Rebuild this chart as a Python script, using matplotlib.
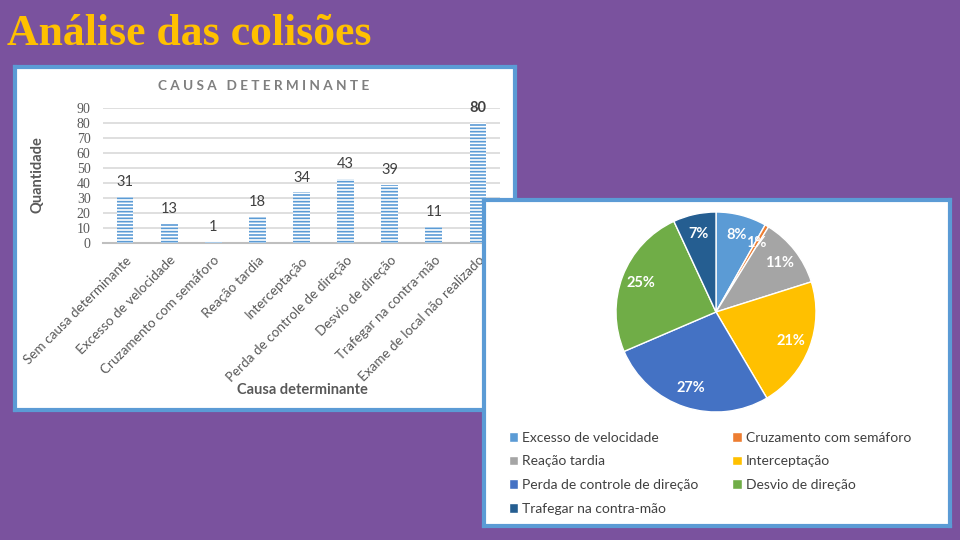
import numpy as np
import matplotlib
matplotlib.use("Agg")
import matplotlib.pyplot as plt
from matplotlib.patches import Patch

# bar chart data
causes = ["Sem causa determinante", "Excesso de velocidade", "Cruzamento com semáforo",
          "Reação tardia", "Interceptação", "Perda de controle de direção",
          "Desvio de direção", "Trafegar na contra-mão", "Exame de local não realizado"]
counts = [31, 13, 1, 18, 34, 43, 39, 11, 80]

# pie chart data (causes with a known type)
pie_labels = ["Excesso de velocidade", "Cruzamento com semáforo", "Reação tardia",
              "Interceptação", "Perda de controle de direção", "Desvio de direção",
              "Trafegar na contra-mão"]
pie_values = [13, 1, 18, 34, 43, 39, 11]
pie_colors = ["#5B9BD5", "#ED7D31", "#A5A5A5", "#FFC000", "#4472C4", "#70AD47", "#255E91"]

W, H = 960, 540
BG = "#7A529E"
BORDER = "#5B9BD5"
GRAY = "#595959"
plt.rcParams['font.family'] = ['Lato', 'DejaVu Sans']


def px_box(x0, y0, x1, y1):
    # pixel box (top-left origin) -> figure fraction rect
    return [x0 / W, 1 - y1 / H, (x1 - x0) / W, (y1 - y0) / H]


fig = plt.figure(figsize=(9.6, 5.4), dpi=100, facecolor=BG)

fig.text(7 / W, 1 - 34 / H, "Análise das colisões", family="Liberation Serif",
         fontweight="bold", fontsize=31.5, color="#FFC000", va="center", ha="left")

# panel behind the bar chart
panel1 = fig.add_axes(px_box(15, 67, 515, 410), zorder=0)
panel1.set_xticks([]); panel1.set_yticks([])
for s in panel1.spines.values():
    s.set_color(BORDER); s.set_linewidth(3)

# bar chart
ax = fig.add_axes(px_box(103, 108, 500, 243), zorder=1)
ax.set_facecolor("none")
x = np.arange(len(causes))
plt.rcParams['hatch.linewidth'] = 1.2
ax.bar(x, counts, width=0.38, facecolor="white", edgecolor="#5B9BD5",
       hatch="-----", linewidth=0, zorder=3)
for xi, v in zip(x, counts):
    ax.text(xi, v + 5, str(v), ha="center", va="bottom", fontsize=10.5,
            color="#404040", fontweight="bold" if v == max(counts) else "normal",
            zorder=4)
ax.set_ylim(0, 90)
ax.set_xlim(-0.5, len(causes) - 0.5)
ax.set_yticks(range(0, 91, 10))
ax.yaxis.grid(True, color="#D9D9D9", linewidth=1.2, zorder=0)
ax.set_axisbelow(True)
for s in ["top", "right", "left"]:
    ax.spines[s].set_visible(False)
ax.spines["bottom"].set_color("#BFBFBF")
ax.spines["bottom"].set_linewidth(1.5)
ax.tick_params(length=0)
ax.set_yticklabels([str(t) for t in range(0, 91, 10)], family="Liberation Serif",
                   fontsize=10, color=GRAY)
ax.set_xticks(x)
ax.set_xticklabels(causes, rotation=45, ha="right", rotation_mode="anchor",
                   fontsize=9.7, color=GRAY)
ax.tick_params(axis="x", pad=8)
ax.tick_params(axis="y", pad=9)

fig.text(264 / W, 1 - 86 / H, "C A U S A   D E T E R M I N A N T E",
         ha="center", va="center", fontsize=9.8, fontweight="bold", color="#7F7F7F")
fig.text(38 / W, 1 - 175 / H, "Quantidade", rotation=90, ha="center", va="center",
         fontsize=10.5, fontweight="bold", color=GRAY)
fig.text(302 / W, 1 - 390 / H, "Causa determinante", ha="center", va="center",
         fontsize=10.5, fontweight="bold", color=GRAY)

# panel behind the pie chart
panel2 = fig.add_axes(px_box(484, 200, 950, 526), zorder=2)
panel2.set_xticks([]); panel2.set_yticks([])
for s in panel2.spines.values():
    s.set_color(BORDER); s.set_linewidth(3)

# pie chart
axp = fig.add_axes(px_box(616, 212, 816, 412), zorder=3)
wedges, _, autotexts = axp.pie(pie_values, colors=pie_colors, startangle=90,
                               counterclock=False, autopct="%1.0f%%", pctdistance=0.8,
                               wedgeprops=dict(edgecolor="white", linewidth=1),
                               textprops=dict(color="white", fontweight="bold",
                                              fontsize=10.5))
axp.set_xlim(-1, 1); axp.set_ylim(-1, 1)
axp.set_aspect("equal")
axp.axis("off")

order = [0, 2, 4, 6, 1, 3, 5]
handles = [Patch(facecolor=pie_colors[i], edgecolor="white") for i in order]
leg = fig.legend(handles, [pie_labels[i] for i in order], ncol=2,
                 loc="upper left", bbox_to_anchor=(496 / W, 1 - 419 / H),
                 frameon=False, fontsize=10, handlelength=0.7, handleheight=0.7,
                 handletextpad=0.3, columnspacing=2.4, labelspacing=0.85,
                 labelcolor="#404040")
leg.set_zorder(5)

fig.savefig("out.png", dpi=100, facecolor=BG)
